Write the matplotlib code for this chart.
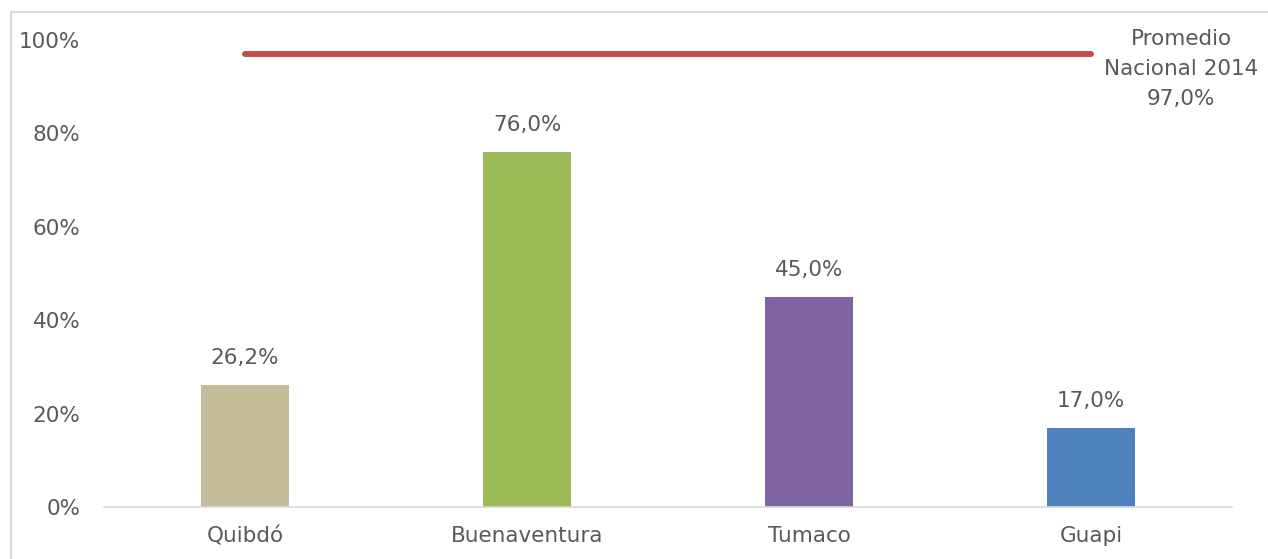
import matplotlib
matplotlib.use("Agg")
import matplotlib.pyplot as plt
from matplotlib.patches import Rectangle

categories = ["Quibdó", "Buenaventura", "Tumaco", "Guapi"]
values = [26.2, 76.0, 45.0, 17.0]
bar_colors = ["#C4BD97", "#9BBB59", "#8064A2", "#4F81BD"]
national_avg = 97.0
national_label = "Promedio\nNacional 2014\n97,0%"
yticks = [0, 20, 40, 60, 80, 100]

plt.rcParams['font.family'] = ['DejaVu Sans']
text_color = "#595959"
fs = 15.5

fig = plt.figure(figsize=(12.68, 5.59), dpi=100)
W, H = 1268, 559
ax = fig.add_axes([104 / W, 1 - 507 / H, (1232 - 104) / W, (507 - 40) / H])

x = list(range(len(categories)))
ax.bar(x, values, width=0.315, color=bar_colors, zorder=2)
for xi, v in zip(x, values):
    ax.annotate(f"{v:.1f}%".replace(".", ","), (xi, v), xytext=(0, 17),
                textcoords="offset pixels", ha="center", va="bottom",
                fontsize=fs, color=text_color)

ax.plot([x[0], x[-1]], [national_avg, national_avg], color="#C0504D",
        lw=4.3, solid_capstyle="round", zorder=3)
fig.text(1181 / W, 1 - 69 / H, national_label, ha="center", va="center",
         fontsize=fs, color=text_color, linespacing=1.6)

ax.set_xlim(-0.5, len(categories) - 0.5)
ax.set_ylim(0, 100)
ax.set_yticks(yticks)
ax.set_yticklabels([f"{t}%" for t in yticks])
ax.set_xticks(x)
ax.set_xticklabels(categories)
ax.tick_params(axis="y", length=0, pad=17, labelsize=fs, labelcolor=text_color)
ax.tick_params(axis="x", length=0, pad=14, labelsize=fs, labelcolor=text_color)
for s in ["top", "right", "left"]:
    ax.spines[s].set_visible(False)
ax.spines["bottom"].set_color("#D9D9D9")
ax.spines["bottom"].set_linewidth(1.2)

fig.patches.append(Rectangle((11 / W, -0.1), 1.2, 1 - 12 / H + 0.1,
                             transform=fig.transFigure, fill=False,
                             edgecolor="#D9D9D9", lw=1.5))

fig.savefig("out.png", dpi=100)
